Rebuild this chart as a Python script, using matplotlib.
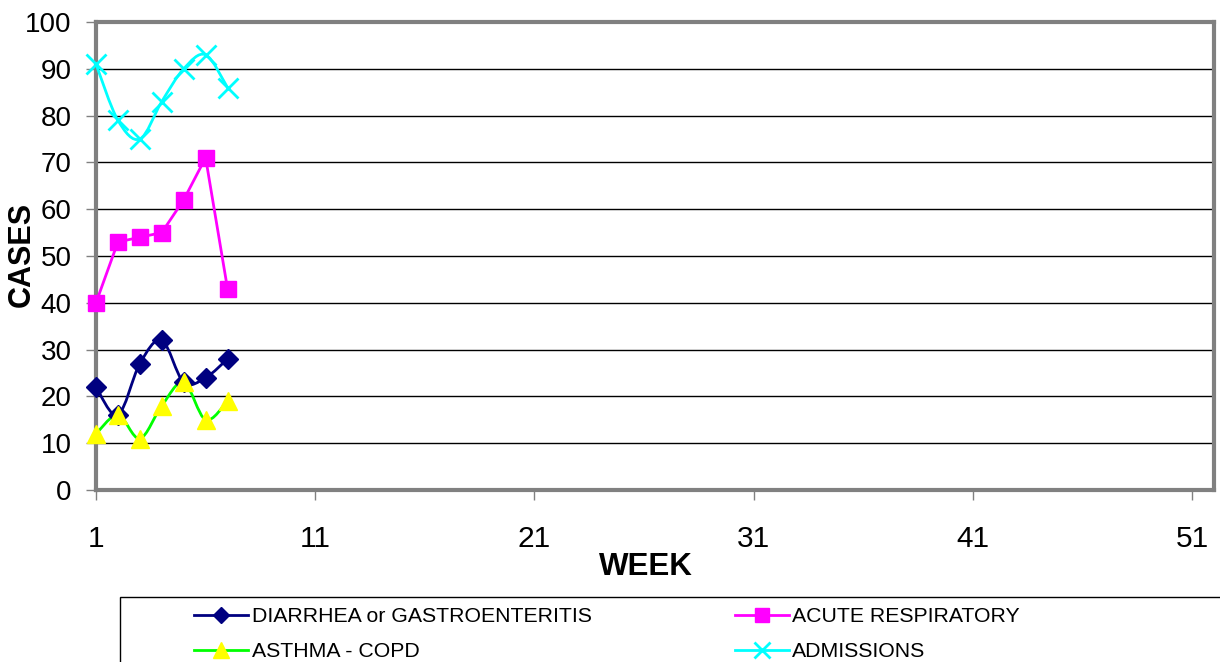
import numpy as np
import matplotlib
matplotlib.use("Agg")
import matplotlib.pyplot as plt
from matplotlib.path import Path
from matplotlib.patches import PathPatch, Rectangle
from matplotlib.lines import Line2D

plt.rcParams['font.family'] = ['Liberation Sans', 'DejaVu Sans']

weeks = [1, 2, 3, 4, 5, 6, 7]
diarrhea = [22, 16, 27, 32, 23, 24, 28]
acute_resp = [40, 53, 54, 55, 62, 71, 43]
asthma = [12, 16, 11, 18, 23, 15, 19]
admissions = [91, 79, 75, 83, 90, 93, 86]

x_ticks = [1, 11, 21, 31, 41, 51]
y_ticks = list(range(0, 101, 10))


def smooth_path(xs, ys):
    # Excel-like smoothed line: cubic bezier through the points
    pts = np.column_stack([xs, ys]).astype(float)
    n = len(pts)
    verts = [pts[0]]
    codes = [Path.MOVETO]
    for i in range(n - 1):
        p0 = pts[i - 1] if i > 0 else pts[i]
        p1 = pts[i]
        p2 = pts[i + 1]
        p3 = pts[i + 2] if i + 2 < n else pts[i + 1]
        c1 = p1 + (p2 - p0) / 6.0
        c2 = p2 - (p3 - p1) / 6.0
        verts += [c1, c2, p2]
        codes += [Path.CURVE4] * 3
    return Path(verts, codes)


W, H = 1220, 662
fig = plt.figure(figsize=(W / 100, H / 100), dpi=100)
ax = fig.add_axes([96 / W, 1 - 490 / H, (1214 - 96) / W, (490 - 22) / H])

series = [
    ("DIARRHEA or GASTROENTERITIS", diarrhea, "#000080", "D", "#000080", "#000080", 10, True),
    ("ACUTE RESPIRATORY", acute_resp, "#FF00FF", "s", "#FF00FF", "#FF00FF", 12, False),
    ("ASTHMA - COPD", asthma, "#00FF00", "^", "#FFFF00", "#FFFF00", 13, True),
    ("ADMISSIONS", admissions, "#00FFFF", "x", "#00FFFF", "#00FFFF", 14, True),
]

handles = []
for name, vals, color, marker, mfc, mec, ms, smooth in series:
    if smooth:
        ax.add_patch(PathPatch(smooth_path(weeks, vals), facecolor="none",
                               edgecolor=color, lw=2, zorder=3))
    else:
        ax.plot(weeks, vals, color=color, lw=2, zorder=3)
    ax.plot(weeks, vals, ls="none", marker=marker, ms=ms, mfc=mfc, mec=mec,
            mew=2 if marker == "x" else 1, zorder=4, clip_on=False)
    handles.append(Line2D([], [], color=color, lw=2, marker=marker, ms=ms * 0.85,
                          mfc=mfc, mec=mec, mew=2 if marker == "x" else 1))

ax.set_xlim(1, 52)
ax.set_ylim(0, 100)
ax.set_xticks(x_ticks)
ax.set_yticks(y_ticks)
ax.tick_params(axis="both", length=7, width=1, color="#808080", direction="out")
ax.tick_params(axis="x", labelsize=21.5, pad=18.5)
ax.tick_params(axis="y", labelsize=20, pad=10.5)
ax.grid(axis="y", color="black", lw=1)
ax.set_axisbelow(True)
for sp in ax.spines.values():
    sp.set_color("#808080")
    sp.set_linewidth(3)

fig.text(646 / W, 1 - 575 / H, "WEEK", fontsize=22.5, fontweight="bold",
         ha="center", va="baseline")
fig.text(22 / W, 1 - 254 / H, "CASES", fontsize=22, fontweight="bold",
         rotation=90, ha="center", va="center")

# legend box (extends past the figure edge like the original)
fig.patches.append(Rectangle((120 / W, -0.05), 1.2, 1 - 597 / H + 0.05,
                             transform=fig.transFigure, fill=False,
                             edgecolor="black", lw=1))
order = [0, 2, 1, 3]
fig.legend([handles[i] for i in order], [series[i][0] for i in order],
           ncol=2, loc="upper left", bbox_to_anchor=(190 / W, 1 - 603 / H),
           frameon=False, fontsize=15.3, handlelength=2.55, handletextpad=0.15,
           columnspacing=6.75, labelspacing=0.75, borderaxespad=0, borderpad=0.2)

fig.savefig("out.png", dpi=100)
